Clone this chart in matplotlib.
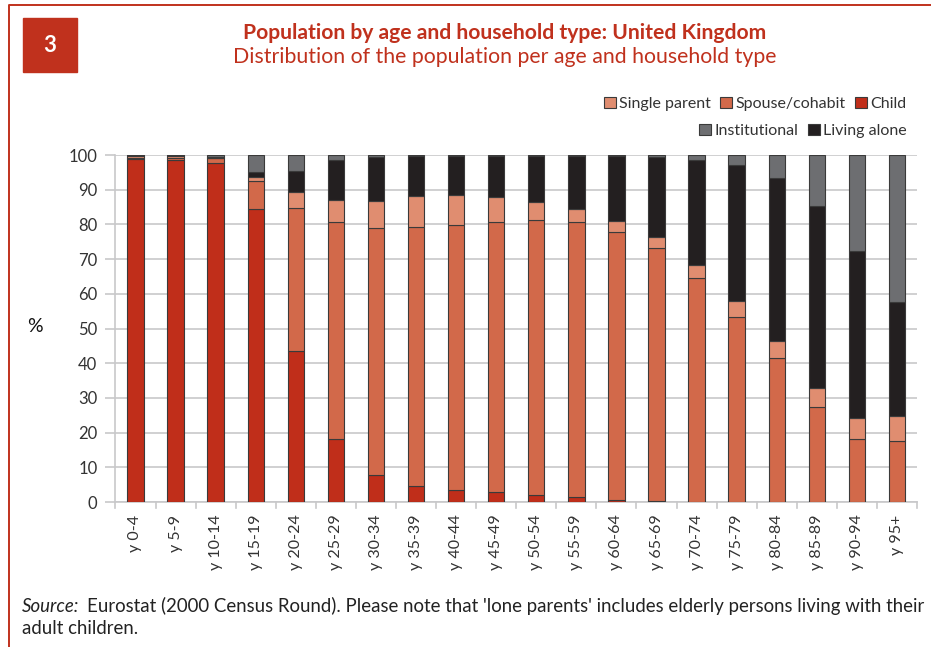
import numpy as np
import matplotlib.pyplot as plt
from matplotlib.patches import Rectangle, Patch
from matplotlib.lines import Line2D

# age groups and household shares (%), stacked bottom -> top
ages = ['y 0-4', 'y 5-9', 'y 10-14', 'y 15-19', 'y 20-24', 'y 25-29', 'y 30-34',
        'y 35-39', 'y 40-44', 'y 45-49', 'y 50-54', 'y 55-59', 'y 60-64',
        'y 65-69', 'y 70-74', 'y 75-79', 'y 80-84', 'y 85-89', 'y 90-94', 'y 95+']
child = [98.9, 98.7, 97.8, 84.5, 43.4, 18.3, 7.8, 4.7, 3.6, 2.9,
         1.9, 1.3, 0.6, 0.3, 0.1, 0.0, 0.0, 0.0, 0.0, 0.0]
spouse = [0.2, 0.3, 1.2, 8.1, 41.2, 62.4, 71.1, 74.5, 76.3, 77.7,
          79.3, 79.5, 77.3, 72.8, 64.6, 53.4, 41.4, 27.4, 18.1, 17.7]
single_parent = [0.6, 0.7, 0.0, 1.0, 4.7, 6.2, 7.9, 8.9, 8.7, 7.3,
                 5.2, 3.6, 3.2, 3.3, 3.5, 4.4, 5.1, 5.6, 6.2, 7.1]
living_alone = [0.2, 0.3, 0.3, 1.5, 6.1, 11.8, 12.6, 11.5, 11.2, 11.9,
                13.3, 15.3, 18.5, 22.9, 30.5, 39.2, 47.0, 52.3, 47.9, 32.7]
institutional = [0.1, 0.0, 0.7, 4.9, 4.6, 1.3, 0.6, 0.4, 0.2, 0.2,
                 0.3, 0.3, 0.4, 0.7, 1.3, 3.0, 6.5, 14.7, 27.8, 42.5]

series = [('Child', child, '#c02e1a'),
          ('Spouse/cohabit', spouse, '#d2694a'),
          ('Single parent', single_parent, '#e08d70'),
          ('Living alone', living_alone, '#231f20'),
          ('Institutional', institutional, '#6d6e71')]

red = '#c0311d'
txt = '#333333'
grid_c = '#c8c8ca'
plt.rcParams['font.family'] = ['Lato', 'DejaVu Sans']

fig = plt.figure(figsize=(9.31, 6.47), dpi=100)
ax = fig.add_axes([0.124, 0.2241, 0.861, 0.5363])

x = np.arange(len(ages))
bottom = np.zeros(len(ages))
handles = {}
for name, vals, col in series:
    vals = np.array(vals)
    b = ax.bar(x, vals, width=0.41, bottom=bottom, color=col,
               edgecolor='#3a3a3a', linewidth=0.8, zorder=3)
    handles[name] = Patch(facecolor=col, edgecolor='#3a3a3a', linewidth=0.8)
    bottom += vals

ax.set_xlim(-0.5, len(ages) - 0.5)
ax.set_ylim(0, 100)
ax.set_yticks(range(0, 101, 10))
ax.set_xticks(x)
ax.set_xticklabels(ages, rotation=90, fontsize=11.5, color=txt)
ax.tick_params(axis='x', length=0, pad=9)
ax.tick_params(axis='y', length=7, color=grid_c, width=1.2, labelsize=12,
               labelcolor=txt, pad=6)
ax.yaxis.grid(True, color=grid_c, linewidth=1.2, zorder=0)
for s in ['top', 'right']:
    ax.spines[s].set_visible(False)
for s in ['left', 'bottom']:
    ax.spines[s].set_color(grid_c)
    ax.spines[s].set_linewidth(1.2)

# small ticks between categories under the axis
for xb in np.arange(-0.5, len(ages), 1.0):
    ax.add_line(Line2D([xb, xb], [0, -1.6], color=grid_c, linewidth=1.2,
                       clip_on=False, zorder=1))

fig.text(35 / 931, 1 - 326 / 647, '%', fontsize=14, color='#111111',
         ha='center', va='center')

# titles and numbered box
fig.text(505 / 931, 1 - 33 / 647,
         'Population by age and household type: United Kingdom',
         fontsize=15.2, fontweight='bold', color=red, ha='center', va='center')
fig.text(505 / 931, 1 - 57 / 647,
         'Distribution of the population per age and household type',
         fontsize=15.3, color=red, ha='center', va='center')
fig.patches.append(Rectangle((22.7 / 931, 1 - 71.7 / 647), 54.3 / 931, 54 / 647,
                             transform=fig.transFigure, color=red))
fig.text(50 / 931, 1 - 45 / 647, '3', fontsize=16, fontweight='bold',
         color='white', ha='center', va='center')

# outer frame
fig.add_artist(Line2D([9 / 931, 9 / 931, 1.0], [0, 1 - 5 / 647, 1 - 5 / 647],
                      transform=fig.transFigure, color=red, linewidth=1.4))

# legend, two right-aligned rows
leg_kw = dict(frameon=False, fontsize=11.5, handlelength=0.75, handleheight=0.75,
              handletextpad=0.2, columnspacing=0.6, borderaxespad=0,
              labelcolor=txt, loc='center right')
row1 = ['Single parent', 'Spouse/cohabit', 'Child']
row2 = ['Institutional', 'Living alone']
fig.legend([handles[n] for n in row1], row1, ncol=3,
           bbox_to_anchor=(913 / 931, 1 - 104 / 647), **leg_kw)
fig.legend([handles[n] for n in row2], row2, ncol=2,
           bbox_to_anchor=(913 / 931, 1 - 131 / 647), **leg_kw)

# source note
fig.text(22 / 931, 1 - 606 / 647, 'Source:', fontsize=13.4, style='italic',
         color='#222222', ha='left', va='center')
fig.text(87 / 931, 1 - 606 / 647,
         "Eurostat (2000 Census Round). Please note that 'lone parents' "
         "includes elderly persons living with their",
         fontsize=13.4, color='#222222', ha='left', va='center')
fig.text(22 / 931, 1 - 628 / 647, 'adult children.', fontsize=13.4,
         color='#222222', ha='left', va='center')

fig.savefig('out.png', dpi=100)
